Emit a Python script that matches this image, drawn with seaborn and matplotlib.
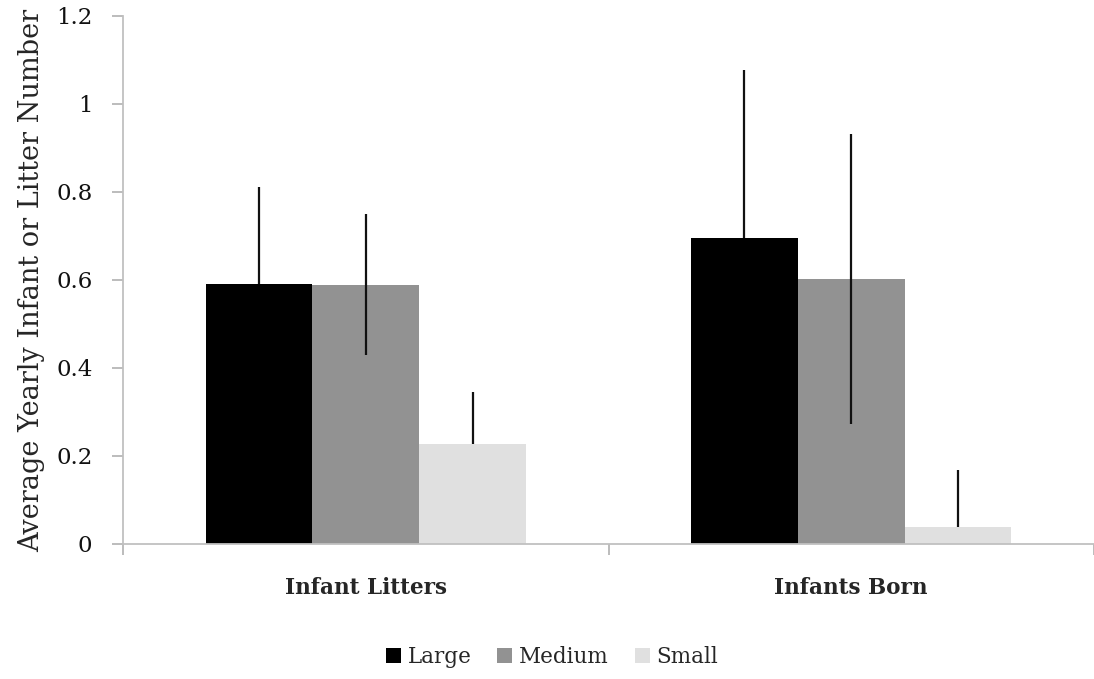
import matplotlib
matplotlib.use("Agg")
import matplotlib.pyplot as plt
import seaborn as sns
import pandas as pd
from matplotlib.patches import Patch

# Measured values
categories = ["Infant Litters", "Infants Born"]
sizes = ["Large", "Medium", "Small"]
large_vals = [0.591, 0.695]
medium_vals = [0.589, 0.602]
small_vals = [0.227, 0.039]
large_err = [0.220, 0.382]
medium_err = [0.160, 0.330]
small_err = [0.118, 0.129]
y_ticks = [0, 0.2, 0.4, 0.6, 0.8, 1.0, 1.2]
y_tick_labels = ["0", "0.2", "0.4", "0.6", "0.8", "1", "1.2"]

colors = {"Large": "#000000", "Medium": "#929292", "Small": "#e0e0e0"}

rows = []
for size, vals in zip(sizes, [large_vals, medium_vals, small_vals]):
    for cat, v in zip(categories, vals):
        rows.append({"category": cat, "size": size, "value": v})
df = pd.DataFrame(rows)

sns.set_style("white")
plt.rcParams["font.family"] = ["DejaVu Serif"]

fig = plt.figure(figsize=(10.94, 6.79), dpi=100)
ax = fig.add_axes([123 / 1094, 1 - 544 / 679, 1 - 123 / 1094, (544 - 16) / 679])

sns.barplot(data=df, x="category", y="value", hue="size", order=categories,
            hue_order=sizes, palette=colors, width=0.66, gap=0,
            errorbar=None, saturation=1, legend=False, ax=ax,
            linewidth=0, zorder=2)

# error bars: Medium shows both arms; Large and Small only the upper arm
err_sets = {"Large": ([0, 0], large_err), "Medium": (medium_err, medium_err),
            "Small": ([0, 0], small_err)}
for container, size in zip(ax.containers, sizes):
    lo, hi = err_sets[size]
    xs = [p.get_x() + p.get_width() / 2 for p in container.patches]
    hs = [p.get_height() for p in container.patches]
    ax.errorbar(xs, hs, yerr=[lo, hi], fmt="none", ecolor="#111111",
                elinewidth=1.6, capsize=0, zorder=3)

ax.set_xlim(-0.5, 1.5)
ax.set_ylim(0, 1.2)
ax.set_yticks(y_ticks)
ax.set_yticklabels(y_tick_labels)
ax.set_xticks([0, 1])
ax.set_xticklabels(categories, fontweight="bold")
ax.set_xticks([-0.5, 0.5, 1.5], minor=True)
ax.tick_params(axis="x", which="major", length=0, pad=24, labelsize=15.5)
ax.tick_params(axis="x", which="minor", length=8, color="#b0b0b0", width=1.2,
               direction="out", bottom=True)
ax.tick_params(axis="y", length=8, color="#b0b0b0", width=1.2, direction="out",
               left=True, labelsize=16.5, pad=14)
for lbl in ax.get_yticklabels():
    lbl.set_color("#111111")

for side in ["top", "right"]:
    ax.spines[side].set_visible(False)
for side in ["left", "bottom"]:
    ax.spines[side].set_color("#c0c0c0")
    ax.spines[side].set_linewidth(1.3)

ax.set_xlabel("")
ax.set_ylabel("Average Yearly Infant or Litter Number", fontsize=19.5,
              labelpad=8)

handles = [Patch(facecolor=colors[s], edgecolor="none", label=s) for s in sizes]
fig.legend(handles=handles, loc="center", bbox_to_anchor=(552 / 1094, 1 - 657 / 679),
           ncol=3, frameon=False, fontsize=15.5, handlelength=0.7,
           handleheight=0.7, handletextpad=0.3, columnspacing=1.2)

fig.savefig("out.png", dpi=100)
